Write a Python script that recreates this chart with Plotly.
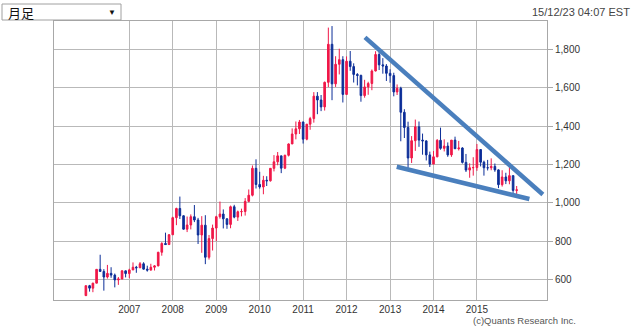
import plotly.graph_objects as go

# Monthly OHLC (gold, USD/oz), Jan 2006 .. Dec 2015
months = [f"{y}-{m:02d}-01" for y in range(2006, 2016) for m in range(1, 13)]

opens = [517, 569, 556, 582, 654, 643, 614, 633, 624, 599, 604, 646,
         632, 651, 665, 662, 683, 655, 650, 665, 672, 743, 789, 783,
         834, 923, 971, 933, 863, 885, 928, 911, 833, 884, 717, 814,
         869, 928, 942, 917, 888, 980, 926, 954, 955, 1008, 1040, 1180,
         1096, 1083, 1118, 1115, 1180, 1214, 1245, 1181, 1248, 1307, 1359, 1386,
         1421, 1332, 1410, 1439, 1556, 1536, 1500, 1628, 1826, 1620, 1722, 1746,
         1565, 1738, 1710, 1669, 1664, 1559, 1604, 1622, 1687, 1773, 1719, 1713,
         1675, 1663, 1578, 1597, 1472, 1393, 1234, 1324, 1396, 1327, 1323, 1250,
         1202, 1240, 1326, 1284, 1296, 1250, 1327, 1282, 1286, 1211, 1171, 1183,
         1184, 1278, 1212, 1183, 1183, 1190, 1172, 1095, 1135, 1115, 1142, 1065]
highs = [569, 573, 584, 654, 730, 655, 677, 665, 632, 614, 650, 648,
         657, 690, 672, 692, 691, 673, 683, 676, 745, 795, 845, 838,
         928, 975, 1033, 935, 929, 940, 989, 922, 931, 936, 833, 887,
         933, 1007, 966, 920, 986, 990, 960, 970, 1025, 1070, 1195, 1227,
         1162, 1141, 1139, 1181, 1249, 1265, 1245, 1251, 1310, 1388, 1424, 1432,
         1424, 1411, 1448, 1577, 1577, 1562, 1632, 1913, 1921, 1764, 1803, 1764,
         1763, 1791, 1727, 1676, 1668, 1641, 1631, 1695, 1790, 1796, 1754, 1723,
         1696, 1678, 1617, 1605, 1488, 1423, 1348, 1434, 1424, 1361, 1326, 1267,
         1270, 1332, 1392, 1331, 1315, 1326, 1345, 1323, 1290, 1255, 1206, 1238,
         1307, 1280, 1220, 1224, 1232, 1205, 1175, 1170, 1157, 1191, 1142, 1088]
lows = [516, 538, 535, 582, 643, 543, 606, 610, 560, 573, 602, 612,
        608, 650, 636, 663, 653, 642, 648, 648, 670, 725, 782, 781,
        834, 884, 916, 861, 848, 862, 900, 786, 740, 681, 705, 752,
        801, 918, 867, 865, 868, 920, 906, 930, 934, 1003, 1034, 1075,
        1074, 1045, 1088, 1111, 1164, 1196, 1155, 1176, 1242, 1308, 1331, 1359,
        1309, 1326, 1381, 1418, 1462, 1478, 1481, 1603, 1535, 1604, 1669, 1523,
        1562, 1688, 1627, 1612, 1527, 1548, 1563, 1587, 1685, 1692, 1673, 1635,
        1626, 1555, 1562, 1321, 1338, 1180, 1208, 1271, 1292, 1251, 1221, 1187,
        1202, 1238, 1277, 1268, 1240, 1240, 1281, 1273, 1205, 1161, 1131, 1142,
        1167, 1190, 1142, 1169, 1170, 1162, 1077, 1085, 1098, 1097, 1052, 1046]
closes = [569, 556, 582, 654, 643, 614, 633, 624, 599, 604, 646, 632,
          651, 665, 662, 683, 655, 650, 665, 672, 743, 789, 783, 834,
          923, 971, 933, 863, 885, 928, 911, 833, 884, 717, 814, 869,
          928, 942, 917, 888, 980, 926, 954, 955, 1008, 1040, 1180, 1096,
          1083, 1118, 1115, 1180, 1214, 1245, 1181, 1248, 1307, 1359, 1386, 1421,
          1332, 1410, 1439, 1556, 1536, 1500, 1628, 1826, 1620, 1722, 1746, 1565,
          1738, 1710, 1669, 1664, 1559, 1604, 1622, 1687, 1773, 1719, 1713, 1675,
          1663, 1578, 1597, 1472, 1393, 1234, 1324, 1396, 1327, 1323, 1250, 1202,
          1240, 1326, 1284, 1296, 1250, 1327, 1282, 1286, 1211, 1171, 1183, 1184,
          1278, 1212, 1183, 1183, 1190, 1172, 1095, 1135, 1115, 1142, 1065, 1068]

# Hand-drawn trend lines (date, price)
upper_line_x = ["2012-06-04", "2016-07-08"]
upper_line_y = [1862, 1044]
lower_line_x = ["2013-02-26", "2016-03-17"]
lower_line_y = [1188, 1020]

# Axis ticks
x_tickvals = [f"{y}-01-01" for y in range(2007, 2016)]
x_ticktext = [str(y) for y in range(2007, 2016)]
y_tickvals = [600, 800, 1000, 1200, 1400, 1600, 1800]
y_ticktext = ["600", "800", "1,000", "1,200", "1,400", "1,600", "1,800"]

UP = "#f01848"
DOWN = "#0c2e98"
TREND = "#4a7fbd"
GRID = "#b9b9b9"

fig = go.Figure()
fig.add_trace(go.Candlestick(
    x=months, open=opens, high=highs, low=lows, close=closes,
    increasing=dict(line=dict(color=UP, width=1), fillcolor=UP),
    decreasing=dict(line=dict(color=DOWN, width=1), fillcolor=DOWN),
    whiskerwidth=0, showlegend=False, hoverinfo="skip",
))
fig.add_trace(go.Scatter(x=upper_line_x, y=upper_line_y, mode="lines",
                         line=dict(color=TREND, width=4.5), showlegend=False))
fig.add_trace(go.Scatter(x=lower_line_x, y=lower_line_y, mode="lines",
                         line=dict(color=TREND, width=4.5), showlegend=False))

fig.update_layout(
    width=640, height=327,
    margin=dict(l=54, r=93, t=21, b=27),
    paper_bgcolor="white", plot_bgcolor="white",
    font=dict(family="Arial, Liberation Sans, sans-serif", size=10, color="#333333"),
    xaxis=dict(
        type="date", range=["2005-04-08", "2016-08-12"],
        rangeslider=dict(visible=False),
        tickvals=x_tickvals, ticktext=x_ticktext,
        showgrid=True, gridcolor=GRID, gridwidth=1,
        showline=True, linecolor="#a8a8a8", linewidth=1, mirror=True,
        ticks="", ticklen=0, tickfont=dict(size=10, color="#333333"),
        zeroline=False, fixedrange=True,
    ),
    yaxis=dict(
        range=[494.3, 1947.4], side="right",
        tickvals=y_tickvals, ticktext=y_ticktext,
        showgrid=True, gridcolor=GRID, gridwidth=1,
        showline=True, linecolor="#a8a8a8", linewidth=1, mirror=True,
        ticks="outside", ticklen=5, tickcolor="#a8a8a8",
        tickfont=dict(size=10, color="#333333"),
        zeroline=False, fixedrange=True,
    ),
    shapes=[
        dict(type="rect", xref="paper", yref="paper",
             x0=(2 - 54) / 493, x1=(121 - 54) / 493,
             y0=(300 - 20) / 279, y1=(300 - 4) / 279,
             line=dict(color="#a0a0a0", width=1), fillcolor="white", layer="above"),
    ],
    annotations=[
        dict(text="月足", xref="paper", yref="paper",
             x=(6 - 54) / 493, y=(300 - 12) / 279, xanchor="left", yanchor="middle",
             showarrow=False, font=dict(size=13, color="#111111",
                                        family="Noto Sans CJK JP, sans-serif")),
        dict(text="▼", xref="paper", yref="paper",
             x=(112 - 54) / 493, y=(300 - 12) / 279, xanchor="center", yanchor="middle",
             showarrow=False, font=dict(size=8, color="#111111")),
        dict(text="15/12/23 04:07 EST", xref="paper", yref="paper",
             x=(632 - 54) / 493, y=(300 - 12) / 279, xanchor="right", yanchor="middle",
             showarrow=False, font=dict(size=11, color="#444444")),
        dict(text="(c)Quants Research Inc.", xref="paper", yref="paper",
             x=(471 - 54) / 493, y=(300 - 320) / 279, xanchor="left", yanchor="middle",
             showarrow=False, font=dict(size=9.5, color="#555555")),
    ],
)

fig.write_html("out.html")
